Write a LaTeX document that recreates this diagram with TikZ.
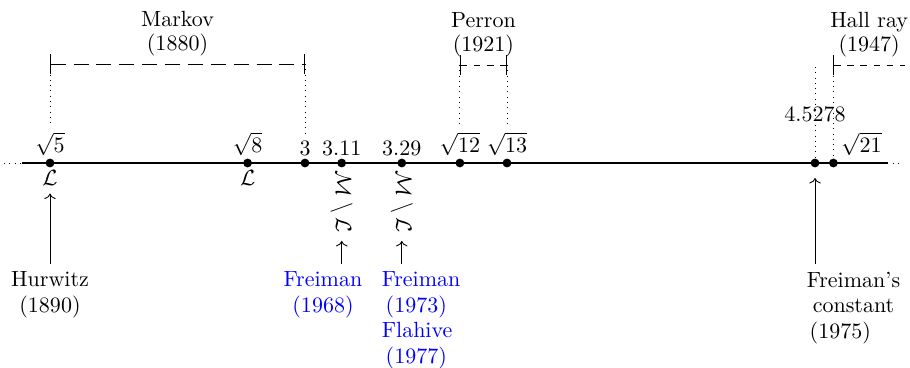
\documentclass[tikz,border=0pt]{standalone}
\usetikzlibrary{arrows.meta}
\begin{document}
\begin{tikzpicture}[x=0.4545pt,y=-0.4545pt,
  dot/.style={circle,fill,inner sep=0pt,minimum size=4pt},
  lbl/.style={font=\fontsize{10}{11}\selectfont,align=center},
  src/.style={font=\fontsize{10}{11.6}\selectfont,align=center},
  frb/.style={src,text=blue},
  axis/.style={line width=0.7pt},
  guide/.style={dotted},
  arr/.style={->},
  brk/.tip={Bar[width=9pt]},
  ]
\useasboundingbox (0,0) rectangle (910,368);

% axis
\coordinate (axL) at (22,163);
\coordinate (axR) at (888,163);
\coordinate (dL) at (4,163);
\coordinate (dR) at (893,163);
\coordinate (dRR) at (901,163);
\draw[axis] (axL) -- (axR);
\draw[guide] (dL) -- (axL);
\draw[guide] (dR) -- (dRR);

% points
\node[dot] (p5) at (50,163) {};
\node[dot] (p8) at (247.6,163) {};
\node[dot] (p3) at (305,163) {};
\node[dot] (p311) at (341.7,163) {};
\node[dot] (p329) at (401.8,163) {};
\node[dot] (p12) at (459.9,163) {};
\node[dot] (p13) at (507,163) {};
\node[dot] (pF) at (815,163) {};
\node[dot] (p21) at (833.4,163) {};

% labels above
\node[above] (t5) at (p5.center) {$\sqrt{5}$};
\node[above] (t8) at (p8.center) {$\sqrt{8}$};
\node[above] (t3) at (p3.center) {$3$};
\node[above] (t311) at (p311.center) {$3.11$};
\node[above] (t329) at (p329.center) {$3.29$};
\node[above] (t12) at (p12.center) {$\sqrt{12}$};
\node[above] (t13) at (p13.center) {$\sqrt{13}$};
\node[above right] (t21) at (p21.center) {$\sqrt{21}$};
\node[anchor=base] (tF) at (815,122) {$4.5278$};

% labels below
\node[below] (L5) at (p5.center) {$\mathcal{L}$};
\node[below] (L8) at (p8.center) {$\mathcal{L}$};
\node[rotate=-90,anchor=west] (ml1) at (p311.center) {$\mathcal{M}\setminus\mathcal{L}$};
\node[rotate=-90,anchor=west] (ml2) at (p329.center) {$\mathcal{M}\setminus\mathcal{L}$};

% intervals
\coordinate (mkL) at (50,64);
\coordinate (mkR) at (305,64);
\draw[brk-brk,dash pattern=on 6.8pt off 3.6pt] (mkL) -- node[above,lbl] (mk) {Markov\\(1880)} (mkR);
\draw[guide] (mkL) -- (t5.north);
\draw[guide] (mkR) -- (t3.north);

\coordinate (peL) at (459.9,65);
\coordinate (peR) at (507,65);
\draw[brk-brk,dashed] (peL) -- node[above,lbl] (pe) {Perron\\(1921)} (peR);
\draw[guide] (peL) -- (t12.north);
\draw[guide] (peR) -- (t13.north);

\coordinate (haL) at (833.4,65);
\coordinate (haR) at (905,65);
\draw[brk-,dashed] (haL) -- node[above,lbl] (ha) {Hall ray\\(1947)} (haR);
\draw[guide] (haL) -- (p21.center);
\coordinate (fTop) at (815,67);
\draw[guide] (fTop) -- (pF.center);

% sources below
\node[src,anchor=north] (hur) at (50,264) {Hurwitz\\(1890)};
\draw[arr] (hur) -- (L5);

\node[frb,anchor=north] (f68) at (323,264) {Freiman\\(1968)};
\draw[arr] (f68.north -| ml1.east) -- (ml1.east);

\node[frb,anchor=north west,align=left] (f73) at (374,264) {Freiman\\\hspace*{1.8pt}(1973)\\Flahive\\\hspace*{1.8pt}(1977)};
\draw[arr] (f73.north -| ml2.east) -- (ml2.east);

\coordinate (fct) at (815,178);
\node[src,anchor=north] (fc) at (853.5,264) {Freiman's\\constant\\(1975)\hspace*{12pt}};
\draw[arr] (fc.north -| pF) -- (fct);
\end{tikzpicture}
\end{document}
